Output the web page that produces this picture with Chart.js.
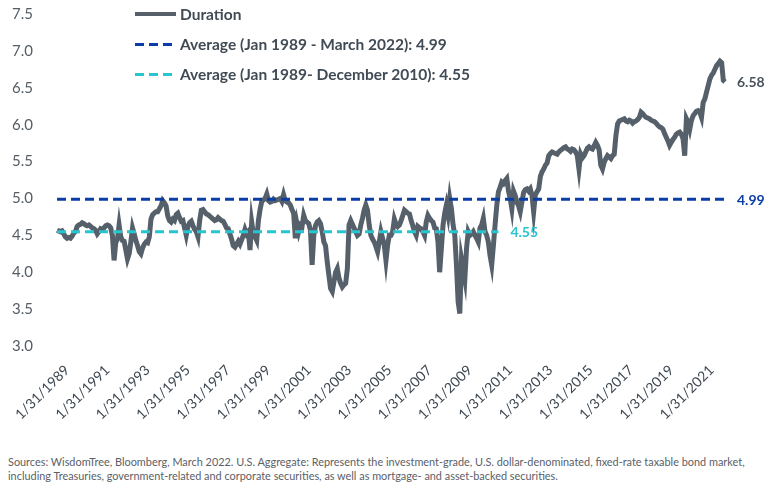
<!DOCTYPE html>
<html lang="en">
  <head>
    <meta charset="UTF-8" />
    <title>Duration</title>
    <style>
      body {
        margin: 0;
        background: #fff;
        font-family: Lato, sans-serif;
      }
      .container {
        position: relative;
        width: 774px;
        height: 489px;
      }
      .chart-box {
        position: absolute;
        left: 0;
        top: 0;
        width: 774px;
        height: 445px;
      }
      #legend {
        position: absolute;
        left: 135px;
        top: -1px;
      }
      #legend ul {
        list-style: none;
        margin: 0;
        padding: 0;
      }
      #legend li {
        display: flex;
        align-items: center;
        height: 30px;
      }
      .note {
        position: absolute;
        left: 8px;
        top: 455px;
        font-size: 10.9px;
        line-height: 14px;
        color: #5b6168;
        white-space: nowrap;
      }
    </style>
    <script src="https://cdn.jsdelivr.net/npm/chart.js"></script>
  </head>
  <body>
    <div class="container">
      <div class="chart-box"><canvas id="chart"></canvas></div>
      <div id="legend"></div>
      <div class="note">
        Sources: WisdomTree, Bloomberg, March 2022. U.S. Aggregate: Represents the investment-grade, U.S. dollar-denominated, fixed-rate taxable bond market,<br />
        including Treasuries, government-related and corporate securities, as well as mortgage- and asset-backed securities.
      </div>
    </div>
    <script>
      // monthly duration, Jan 1989 - Mar 2022 (one row per year)
      const duration = [
        4.57, 4.56, 4.55, 4.56, 4.52, 4.48, 4.46, 4.47, 4.46, 4.49, 4.53, 4.55,
        4.62, 4.64, 4.65, 4.67, 4.66, 4.64, 4.63, 4.64, 4.62, 4.60, 4.59, 4.57,
        4.52, 4.55, 4.59, 4.58, 4.60, 4.63, 4.64, 4.63, 4.60, 4.50, 4.16, 4.40,
        4.45, 4.64, 4.48, 4.43, 4.42, 4.30, 4.18, 4.25, 4.41, 4.60, 4.52, 4.43,
        4.36, 4.28, 4.25, 4.33, 4.38, 4.41, 4.40, 4.48, 4.72, 4.78, 4.80, 4.82,
        4.82, 4.86, 4.90, 4.97, 4.94, 4.90, 4.76, 4.70, 4.68, 4.72, 4.70, 4.78,
        4.80, 4.74, 4.69, 4.70, 4.60, 4.50, 4.62, 4.67, 4.69, 4.63, 4.58, 4.55,
        4.48, 4.70, 4.84, 4.85, 4.82, 4.79, 4.78, 4.76, 4.74, 4.72, 4.70, 4.71,
        4.74, 4.72, 4.70, 4.69, 4.65, 4.60, 4.59, 4.52, 4.45, 4.36, 4.34, 4.38,
        4.42, 4.38, 4.44, 4.50, 4.58, 4.52, 4.55, 4.30, 4.68, 4.52, 4.48, 4.43,
        4.70, 4.85, 4.96, 4.98, 5.00, 5.06, 4.97, 4.95, 4.96, 4.99, 4.97, 4.98,
        4.99, 5.00, 4.96, 5.05, 4.97, 4.95, 4.94, 4.91, 4.85, 4.80, 4.46, 4.66,
        4.55, 4.64, 4.62, 4.77, 4.70, 4.68, 4.66, 4.57, 4.10, 4.50, 4.63, 4.68,
        4.70, 4.66, 4.55, 4.41, 4.36, 4.14, 3.96, 3.78, 3.74, 3.87, 4.00, 4.05,
        3.92, 3.85, 3.80, 3.83, 3.85, 4.05, 4.64, 4.70, 4.65, 4.60, 4.55, 4.50,
        4.52, 4.64, 4.73, 4.84, 4.91, 4.84, 4.64, 4.50, 4.45, 4.41, 4.35, 4.28,
        4.41, 4.55, 4.46, 4.37, 4.16, 4.37, 4.50, 4.50, 4.55, 4.72, 4.65, 4.62,
        4.64, 4.70, 4.77, 4.84, 4.82, 4.80, 4.79, 4.70, 4.63, 4.55, 4.50, 4.62,
        4.60, 4.59, 4.55, 4.50, 4.68, 4.77, 4.73, 4.70, 4.68, 4.60, 4.59, 4.41,
        4.00, 4.32, 4.64, 4.80, 4.91, 4.78, 5.00, 4.86, 4.64, 4.50, 4.10, 3.60,
        3.44, 4.18, 4.05, 3.91, 4.32, 4.55, 4.50, 4.52, 4.55, 4.50, 4.46, 4.41,
        4.60, 4.64, 4.73, 4.55, 4.50, 4.41, 4.23, 4.10, 4.36, 4.64, 4.90, 5.09,
        5.15, 5.22, 5.20, 5.24, 5.27, 5.10, 5.00, 4.86, 5.10, 5.04, 4.95, 4.90,
        4.82, 4.95, 5.08, 5.12, 5.13, 5.10, 5.13, 5.04, 4.82, 5.05, 5.09, 5.13,
        5.30, 5.36, 5.40, 5.45, 5.48, 5.58, 5.61, 5.63, 5.62, 5.61, 5.60, 5.63,
        5.65, 5.67, 5.69, 5.70, 5.67, 5.66, 5.64, 5.67, 5.66, 5.63, 5.58, 5.40,
        5.60, 5.55, 5.58, 5.63, 5.68, 5.70, 5.68, 5.67, 5.71, 5.76, 5.72, 5.66,
        5.45, 5.40, 5.49, 5.54, 5.58, 5.56, 5.54, 5.58, 5.60, 5.85, 6.01, 6.05,
        6.06, 6.07, 6.08, 6.05, 6.04, 6.06, 6.05, 6.02, 6.04, 6.05, 6.07, 6.10,
        6.17, 6.15, 6.12, 6.10, 6.09, 6.08, 6.06, 6.05, 6.04, 6.02, 5.99, 5.97,
        5.96, 5.94, 5.88, 5.83, 5.78, 5.72, 5.76, 5.80, 5.83, 5.87, 5.89, 5.90,
        5.87, 5.81, 5.58, 6.08, 6.03, 5.94, 6.06, 6.12, 6.15, 6.18, 6.19, 6.17,
        6.10, 6.30, 6.35, 6.44, 6.53, 6.62, 6.67, 6.70, 6.75, 6.80, 6.83, 6.86,
        6.84, 6.60, 6.58,
      ];

      const avgAll = 4.99; // Jan 1989 - Mar 2022
      const avgTo2010 = 4.55; // Jan 1989 - Dec 2010
      const avgTo2010End = "12/31/2010";

      const yTicks = [3.0, 3.5, 4.0, 4.5, 5.0, 5.5, 6.0, 6.5, 7.0, 7.5];

      // month-end labels, 1/31/1989 ...
      const months = [];
      for (let i = 0; i < duration.length; i++) {
        const yr = 1989 + Math.floor(i / 12);
        const mo = i % 12;
        const last = new Date(yr, mo + 1, 0).getDate();
        months.push(mo + 1 + "/" + last + "/" + yr);
      }
      const cut = months.indexOf(avgTo2010End);

      const gray = "#56606a";
      const blue = "#0a3da6";
      const cyan = "#27c5cf";

      // value written after the last point of each line
      const endLabels = {
        id: "endLabels",
        afterDatasetsDraw(chart) {
          const ctx = chart.ctx;
          chart.data.datasets.forEach((ds, i) => {
            const meta = chart.getDatasetMeta(i);
            let j = ds.data.length - 1;
            while (ds.data[j] == null) j--;
            const pt = meta.data[j];
            ctx.save();
            ctx.font = "bold 14px Lato";
            ctx.fillStyle = ds.labelColor;
            ctx.textBaseline = "middle";
            ctx.fillText(ds.data[j].toFixed(2), pt.x + 12, pt.y + 1);
            ctx.restore();
          });
        },
      };

      const htmlLegend = {
        id: "htmlLegend",
        afterUpdate(chart) {
          const box = document.getElementById("legend");
          box.innerHTML = "";
          const ul = document.createElement("ul");
          chart.data.datasets.forEach((ds) => {
            const li = document.createElement("li");
            const mark = document.createElement("span");
            mark.style.display = "inline-block";
            mark.style.width = "41px";
            if (ds.borderDash) {
              mark.style.height = "3px";
              mark.style.background =
                "repeating-linear-gradient(90deg," + ds.borderColor + " 0 9px, transparent 9px 14px)";
            } else {
              mark.style.height = "4px";
              mark.style.background = ds.borderColor;
            }
            const txt = document.createElement("span");
            txt.textContent = ds.label;
            txt.style.marginLeft = "4px";
            txt.style.fontWeight = "bold";
            txt.style.fontSize = "15.5px";
            txt.style.color = "#414b55";
            li.appendChild(mark);
            li.appendChild(txt);
            ul.appendChild(li);
          });
          box.appendChild(ul);
        },
      };

      new Chart(document.getElementById("chart"), {
        type: "line",
        data: {
          labels: months,
          datasets: [
            {
              label: "Duration",
              data: duration,
              borderColor: gray,
              borderWidth: 5,
              pointRadius: 0,
              labelColor: "#48525c",
              order: 1,
            },
            {
              label: "Average (Jan 1989 - March 2022): " + avgAll,
              data: months.map(() => avgAll),
              borderColor: blue,
              borderWidth: 3,
              borderDash: [9, 5],
              pointRadius: 0,
              labelColor: blue,
              order: 0,
            },
            {
              label: "Average (Jan 1989- December 2010): " + avgTo2010,
              data: months.map((m, i) => (i <= cut ? avgTo2010 : null)),
              borderColor: cyan,
              borderWidth: 3,
              borderDash: [9, 5],
              pointRadius: 0,
              labelColor: cyan,
              order: 0,
            },
          ],
        },
        options: {
          responsive: true,
          maintainAspectRatio: false,
          animation: false,
          layout: { padding: { top: 14, right: 49, left: 0, bottom: 0 } },
          plugins: {
            legend: { display: false },
            tooltip: { enabled: false },
          },
          scales: {
            x: {
              grid: { display: false },
              border: { display: false },
              afterFit: (axis) => {
                axis.height = 99;
                axis.paddingLeft = 0;
                axis.paddingRight = 0;
              },
              ticks: {
                autoSkip: false,
                maxRotation: 45,
                minRotation: 45,
                padding: 8,
                labelOffset: 10,
                color: "#3e4852",
                font: { family: "Lato", size: 14 },
                callback: function (v, i) {
                  return i % 24 === 0 ? months[i] : null;
                },
              },
            },
            y: {
              min: 3,
              max: 7.5,
              grid: { display: false },
              border: { display: false },
              afterFit: (axis) => {
                axis.width = 57;
                axis.paddingTop = 0;
                axis.paddingBottom = 0;
              },
              afterBuildTicks: (axis) => {
                axis.ticks = yTicks.map((v) => ({ value: v }));
              },
              ticks: {
                padding: 16,
                color: "#555d65",
                font: { family: "Lato", size: 15 },
                callback: (v) => v.toFixed(1),
              },
            },
          },
        },
        plugins: [htmlLegend, endLabels],
      });
    </script>
  </body>
</html>
